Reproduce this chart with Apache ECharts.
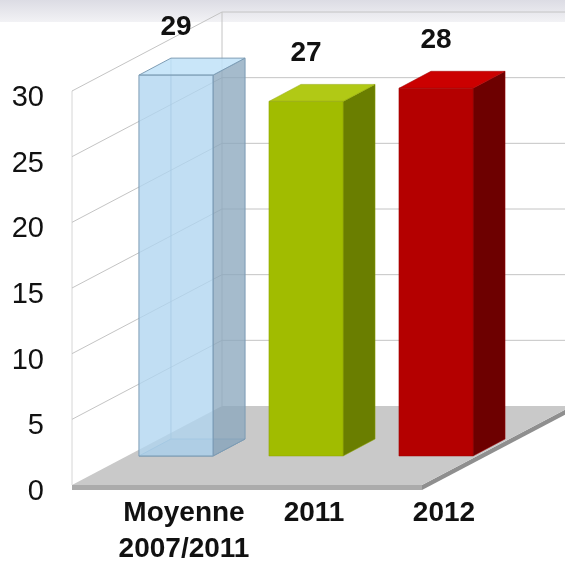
<!DOCTYPE html>
<html><head><meta charset="utf-8">
<script src="https://cdn.jsdelivr.net/npm/echarts@6/dist/echarts.min.js"></script>
<style>html,body{margin:0;padding:0;background:#fff}#c{width:565px;height:567px}</style>
</head><body><div id="c"></div>
<script>
// ---- data ----
const categories = ['Moyenne\n2007/2011', '2011', '2012'];
const values = [29, 27, 28];
const yTicks = [0, 5, 10, 15, 20, 25, 30];
const yMin = 0, yMax = 30, yStep = 5;

// ---- styling / layout ----
const FONT = '"Liberation Sans", Arial, sans-serif';
const BOX = { left: 72, right: 422, depthX: 150, depthY: -79 };
const BAR = { planeDy: -29, depthX: 32, depthY: -17, widthRatio: 0.57, labelGap: 48 };
const barStyles = [
  { front: 'rgba(176,213,240,0.78)', side: 'rgba(140,168,190,0.78)', top: 'rgba(192,226,248,0.85)', edge: '#7d9cb4', transparent: true },
  { front: '#a1bc00', side: '#6a7e00', top: '#b1c915', edge: '#8ca300' },
  { front: '#b40000', side: '#6d0000', top: '#cb0000', edge: '#9c0000' }
];

const chart = echarts.init(document.getElementById('c'));

function boxRender(params, api) {
  const children = [];
  const gridColor = '#c4c4c4';
  const y0 = api.coord([0, yMin])[1];
  const yTop = api.coord([0, yMax])[1];
  const L = BOX.left, R = BOX.right, dx = BOX.depthX, dy = BOX.depthY;
  children.push({ type: 'line', shape: { x1: L, y1: y0, x2: L, y2: yTop }, style: { stroke: '#d6d6d6', lineWidth: 1 } });
  children.push({ type: 'line', shape: { x1: L + dx, y1: y0 + dy, x2: L + dx, y2: yTop + dy }, style: { stroke: gridColor, lineWidth: 1 } });
  yTicks.forEach(function (t) {
    if (t === yMin) return;
    const y = api.coord([0, t])[1];
    children.push({ type: 'line', shape: { x1: L, y1: y, x2: L + dx, y2: y + dy }, style: { stroke: gridColor, lineWidth: 1 } });
    children.push({ type: 'line', shape: { x1: L + dx, y1: y + dy, x2: R + dx + 20, y2: y + dy }, style: { stroke: gridColor, lineWidth: 1 } });
  });
  const th = 5;
  children.push({ type: 'polygon', shape: { points: [[L, y0], [R, y0], [R, y0 + th], [L, y0 + th]] }, style: { fill: '#ababab' } });
  children.push({ type: 'polygon', shape: { points: [[R, y0], [R + dx, y0 + dy], [R + dx, y0 + dy + th], [R, y0 + th]] }, style: { fill: '#8f8f8f' } });
  children.push({ type: 'polygon', shape: { points: [[L, y0], [R, y0], [R + dx, y0 + dy], [L + dx, y0 + dy]] }, style: { fill: '#c9c9c9' } });
  return { type: 'group', children: children };
}

function barRender(params, api) {
  const i = api.value(0), v = api.value(1);
  const top = api.coord([i, v]);
  const base = api.coord([i, yMin]);
  const w = api.size([1, 0])[0] * BAR.widthRatio;
  const x0 = top[0] - w / 2, x1 = top[0] + w / 2;
  const yt = top[1] + BAR.planeDy, yb = base[1] + BAR.planeDy;
  const dx = BAR.depthX, dy = BAR.depthY;
  const s = barStyles[i];
  const children = [];
  if (s.transparent) {
    children.push({ type: 'polygon', shape: { points: [[x0, yb], [x1, yb], [x1 + dx, yb + dy], [x0 + dx, yb + dy]] }, style: { fill: 'rgba(120,150,175,0.35)', stroke: s.edge, lineWidth: 1 } });
    children.push({ type: 'line', shape: { x1: x0 + dx, y1: yt + dy, x2: x0 + dx, y2: yb + dy }, style: { stroke: s.edge, lineWidth: 1, opacity: 0.8 } });
  }
  children.push({ type: 'polygon', shape: { points: [[x1, yt], [x1 + dx, yt + dy], [x1 + dx, yb + dy], [x1, yb]] }, style: { fill: s.side, stroke: s.edge, lineWidth: s.transparent ? 1 : 0.5 } });
  children.push({ type: 'polygon', shape: { points: [[x0, yt], [x0 + dx, yt + dy], [x1 + dx, yt + dy], [x1, yt]] }, style: { fill: s.top, stroke: s.edge, lineWidth: s.transparent ? 1 : 0.5 } });
  children.push({ type: 'rect', shape: { x: x0, y: yt, width: w, height: yb - yt }, style: { fill: s.front, stroke: s.edge, lineWidth: s.transparent ? 1 : 0.5 } });
  children.push({ type: 'text', style: { text: String(v), x: top[0], y: yt - BAR.labelGap, align: 'center', verticalAlign: 'middle', fontSize: 28, fontWeight: 'bold', fontFamily: FONT, fill: '#111' } });
  return { type: 'group', children: children };
}

chart.setOption({
  animation: false,
  backgroundColor: '#ffffff',
  graphic: [{
    type: 'rect', left: 0, top: 0, z: -10,
    shape: { width: 565, height: 22 },
    style: { fill: new echarts.graphic.LinearGradient(0, 0, 0, 1, [{ offset: 0, color: '#dcdce4' }, { offset: 1, color: '#f2f2f5' }]) }
  }],
  grid: { left: 111, right: 64, top: 91, bottom: 77 },
  xAxis: {
    type: 'category', data: categories,
    axisLine: { show: false }, axisTick: { show: false }, splitLine: { show: false },
    axisLabel: { margin: 10, fontSize: 28, fontWeight: 'bold', fontFamily: FONT, color: '#111', lineHeight: 36, padding: [0, 0, 0, 16], interval: 0 }
  },
  yAxis: {
    type: 'value', min: yMin, max: yMax, interval: yStep,
    axisLine: { show: false }, axisTick: { show: false }, splitLine: { show: false },
    axisLabel: { margin: 67, fontSize: 29, fontFamily: FONT, color: '#111', verticalAlign: 'top', lineHeight: 14 }
  },
  series: [
    { type: 'custom', name: 'box', data: [[0, 0]], renderItem: boxRender, clip: false, silent: true, z: 1 },
    { type: 'custom', name: 'bars', data: values.map(function (v, i) { return [i, v]; }), renderItem: barRender, clip: false, z: 3 }
  ]
});
</script>
</body></html>
